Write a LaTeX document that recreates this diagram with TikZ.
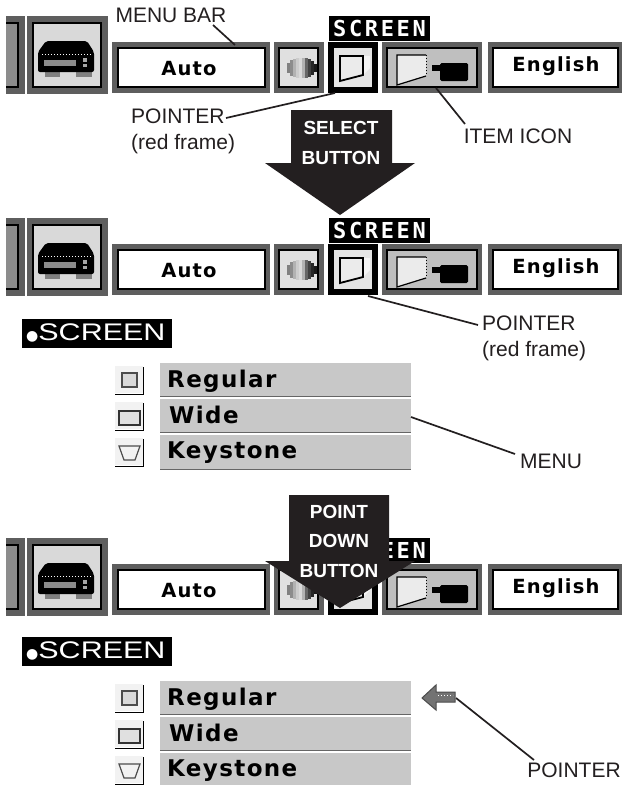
\documentclass[tikz,border=0pt]{standalone}
\usepackage{fontspec}
\setmainfont{Liberation Sans}
\newfontfamily\pixfont[LetterSpace=6]{DejaVu Sans}
\newfontfamily\scrfont[LetterSpace=12]{DejaVu Sans Mono}
\newfontfamily\titlefont[FakeStretch=1.27]{Liberation Sans}
\newfontfamily\dotfont{DejaVu Sans}
\usetikzlibrary{calc}
\definecolor{framegray}{HTML}{5E5E5E}
\definecolor{inkblack}{HTML}{231F20}
\definecolor{menugray}{HTML}{C8C8C8}
\tikzset{
  lab/.style={inner sep=0pt,align=left,text=inkblack,font=\fontsize{21}{26}\selectfont},
  btnlab/.style={inner sep=0pt,align=center,text=white,font=\fontsize{19}{29.5}\selectfont\bfseries},
  leader/.style={draw=inkblack,line width=1.7pt},
  bar/.style={draw=none,fill=framegray},
  inner/.style={draw=black,line width=1.2pt},
  bigarrow/.style={fill=inkblack,draw=none},
  rowbox/.style={fill=menugray,draw=none},
  item/.style={inner sep=0pt,anchor=west,font=\fontsize{23}{26}\selectfont\bfseries\pixfont},
  barword/.style={inner sep=0pt,font=\fontsize{19.5}{24}\selectfont\bfseries\pixfont},
  title/.style={fill=black,text=white,inner sep=0pt,anchor=west,minimum height=29pt,font=\fontsize{24}{26}\selectfont\titlefont},
}
\newcommand{\menubar}[2]{%
\begin{scope}[shift={(0,#1)}]
  % left block
  \fill[framegray] (6,16) rectangle (25,94);
  \fill[gray!90] (6,23) rectangle (18,87);
  \draw[inner] (6,23) -- (18,23) -- (18,87) -- (6,87);
  \fill[framegray] (27,16) rectangle (108,94);
  \filldraw[fill=black!15,inner] (33,23) rectangle (101,87);
  % printer
  \fill[black!50] (45,72) rectangle (60,77);
  \fill[black!50] (76,72) rectangle (92,77);
  \fill[black,rounded corners=2pt] (46,41) -- (87,41) -- (94,52) -- (94,72) -- (38,72) -- (38,52) -- cycle;
  \draw[white,line width=1pt,dotted] (42,54) -- (91,54);
  \fill[black!45] (44,60) rectangle (76,66);
  \fill[black!35] (83,58) rectangle (87,62);
  \fill[black!35] (83,64) rectangle (87,67);
  % Auto
  \fill[bar] (112,42) rectangle (270,93);
  \filldraw[fill=white,inner] (118,48) rectangle (265,87);
  \node[barword] (auto#2) at (189,69) {Auto};
  % globe
  \fill[bar] (274,42) rectangle (324,93);
  \filldraw[fill=black!12,inner] (279,48) rectangle (318,87);
  \foreach \xx/\hh/\cc in {288/5/50,291/8/45,294/9/30,297/10/20,300/10/15,303/10/30,306/10/60,309/9/75,312/7/85,315/4/90}
    \fill[black!\cc] (\xx-1.5,68-\hh) rectangle (\xx+1.5,68+\hh);
  % screen icon (pointer frame)
  \fill[black] (328,42) rectangle (378,93);
  \fill[black!10] (334,48) rectangle (372,87);
  \fill[black!4] (340,56) -- (370,56) -- (370,68) -- (363,75) -- (340,81) -- cycle;
  \filldraw[fill=black!8,draw=black,line width=1.8pt] (340,56) -- (363,56) -- (363,75) -- (340,81) -- cycle;
  % item icon
  \fill[bar] (382,42) rectangle (482,93);
  \filldraw[fill=black!25,inner] (387,48) rectangle (477,87);
  \fill[white!92!black] (397,55) -- (426,55) -- (426,76) -- (397,85) -- cycle;
  \draw[black,line width=1.2pt] (426,76) -- (397,85) -- (397,55) -- (426,55);
  \draw[black,line width=1pt,dotted] (426,55) -- (426,76);
  \fill[black] (432,65) rectangle (441,71);
  \fill[black,rounded corners=1.5pt] (440,63) rectangle (468,81);
  % English
  \fill[bar] (488,42) rectangle (622,93);
  \filldraw[fill=white,inner] (493,48) rectangle (618,87);
  \node[barword] (eng#2) at (556,66) {English};
  % SCREEN tab
  \node[fill=black,text=white,inner sep=0pt,minimum width=101pt,minimum height=25pt,
        font=\fontsize{22}{24}\selectfont\bfseries\scrfont] (tab#2) at (379.5,28) {SCREEN};
\end{scope}}
\newcommand{\menulist}[2]{%
\begin{scope}[shift={(0,#1)}]
  \node[title,minimum width=150pt,text width=150pt] (title#2) at (22,333) {\,{\dotfont\fontsize{14}{14}\selectfont ●}SCREEN};
  \fill[rowbox] (160,363) rectangle (411,397);
  \fill[rowbox] (160,399) rectangle (411,433);
  \fill[rowbox] (160,435) rectangle (411,470);
  \draw[black!60,line width=1pt] (160,396.5) -- (411,396.5) (160,432.5) -- (411,432.5) (160,469.5) -- (411,469.5);
  \node[item] (reg#2) at (167,381) {Regular};
  \node[item] (wide#2) at (169,415) {Wide};
  \node[item] (key#2) at (167,453) {Keystone};
  \foreach \yy in {366,402,438} {
    \fill[black!5] (115,\yy) rectangle (143,\yy+27);
    \draw[black,line width=0.8pt] (115,\yy+28) -- (143,\yy+28) -- (143,\yy+1);
  }
  \filldraw[fill=black!15,draw=black!70,line width=1.2pt] (122,373) rectangle (137,387);
  \filldraw[fill=black!12,draw=black!80,line width=1.2pt] (119,411) rectangle (140,425);
  \filldraw[fill=black!5,draw=black!70,line width=1.2pt] (119,446) -- (140,446) -- (135,460) -- (124,460) -- cycle;
\end{scope}}
\begin{document}
\begin{tikzpicture}[x=1pt,y=-1pt]
\useasboundingbox (0,0) rectangle (623,785);
\clip (0,0) rectangle (623,785);
\fill[white] (0,0) rectangle (623,785);

\menubar{0}{a}
\menubar{202}{b}
\menubar{522}{c}
\menulist{0}{a}
\begin{scope}
\clip (0,600) rectangle (623,785);
\menulist{318}{b}
\end{scope}

% arrows
\fill[bigarrow] (291,110) -- (392,110) -- (392,163) -- (415,163) -- (340,215) -- (265,163) -- (291,163) -- cycle;
\node[btnlab] (sel) at (341,143) {SELECT\\BUTTON};
\fill[bigarrow] (289,495) -- (389,495) -- (389,561) -- (415,561) -- (340,608) -- (265,561) -- (289,561) -- cycle;
\node[btnlab] (pdb) at (339,541) {POINT\\DOWN\\BUTTON};

% labels
\node[lab] (mb) at (171,15) {MENU BAR};
\node[lab,anchor=north west] (p1) at (131,109) {POINTER\\(red frame)};
\node[lab] (ii) at (518,136) {ITEM ICON};
\node[lab,anchor=north west] (p2) at (482,316) {POINTER\\(red frame)};
\node[lab] (mn) at (551,461) {MENU};
\node[lab] (p3) at (574,770) {POINTER};

\coordinate (mbe) at (235,45);
\coordinate (p1e) at (335,93);
\coordinate (iie) at (436,88);
\coordinate (p2e) at (368,296);
\coordinate (mne) at (411,417);
\coordinate (p3e) at (456,698);
\draw[leader] (213,25) -- (mbe);
\draw[leader] (226,118) -- (p1e);
\draw[leader] (465,124) -- (iie);
\draw[leader] (478,325) -- (p2e);
\draw[leader] (515,454) -- (mne);
\draw[leader] (534,760) -- (p3e);

% small pointer arrow
\filldraw[fill=black!55,draw=black!70,line width=1pt] (422,698) -- (436,685) -- (436,692) -- (455,692) -- (455,702) -- (436,702) -- (436,710) -- cycle;
\draw[white,line width=1pt,dotted] (438,695) -- (453,695);
\end{tikzpicture}
\end{document}
